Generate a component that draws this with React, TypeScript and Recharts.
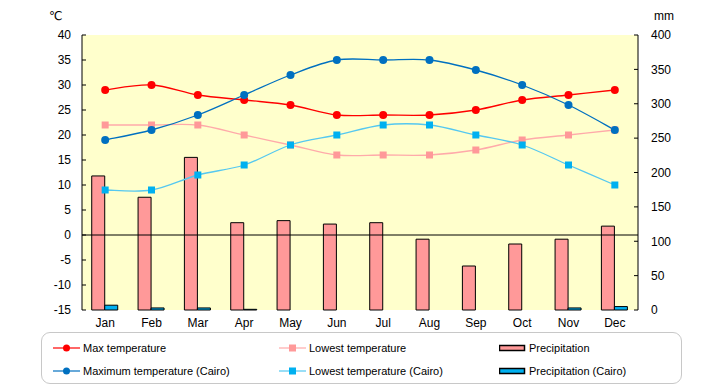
import React from "react"
import {
  ComposedChart,
  Bar,
  Line,
  XAxis,
  YAxis,
  CartesianGrid,
  ReferenceLine,
} from "recharts"

const months = ["Jan", "Feb", "Mar", "Apr", "May", "Jun", "Jul", "Aug", "Sep", "Oct", "Nov", "Dec"]
const maxTemp = [29, 30, 28, 27, 26, 24, 24, 24, 25, 27, 28, 29]
const lowTemp = [22, 22, 22, 20, 18, 16, 16, 16, 17, 19, 20, 21]
const precip = [195, 164, 222, 127, 130, 125, 127, 103, 64, 96, 103, 122]
const maxTempCairo = [19, 21, 24, 28, 32, 35, 35, 35, 33, 30, 26, 21]
const lowTempCairo = [9, 9, 12, 14, 18, 20, 22, 22, 20, 18, 14, 10]
const precipCairo = [7, 3, 3, 1, 0, 0, 0, 0, 0, 0, 3, 5]

const tempTicks = [-15, -10, -5, 0, 5, 10, 15, 20, 25, 30, 35, 40]
const rainTicks = [0, 50, 100, 150, 200, 250, 300, 350, 400]

const data = months.map((m, i) => ({
  month: m,
  maxTemp: maxTemp[i],
  lowTemp: lowTemp[i],
  precip: precip[i],
  maxTempCairo: maxTempCairo[i],
  lowTempCairo: lowTempCairo[i],
  precipCairo: precipCairo[i],
}))

const RED = "#ff0000"
const PINK = "#ff9999"
const BLUE = "#0070c0"
const SKY = "#00b0f0"

// catmull-rom style smoothing, like the spreadsheet's "smoothed line"
const smooth = (ctx: any) => {
  let pts: number[][] = []
  return {
    areaStart() {},
    areaEnd() {},
    lineStart() {
      pts = []
    },
    point(x: number, y: number) {
      pts.push([+x, +y])
    },
    lineEnd() {
      if (!pts.length) return
      ctx.moveTo(pts[0][0], pts[0][1])
      const k = 1 / 6
      for (let i = 0; i < pts.length - 1; i++) {
        const p0 = pts[i - 1] || pts[i]
        const p1 = pts[i]
        const p2 = pts[i + 1]
        const p3 = pts[i + 2] || p2
        ctx.bezierCurveTo(
          p1[0] + (p2[0] - p0[0]) * k,
          p1[1] + (p2[1] - p0[1]) * k,
          p2[0] - (p3[0] - p1[0]) * k,
          p2[1] - (p3[1] - p1[1]) * k,
          p2[0],
          p2[1]
        )
      }
    },
  }
}

const squareDot = (color: string) => (props: any) => {
  const { cx, cy, index } = props
  if (cx == null || cy == null) return <g key={index} />
  return <rect key={index} x={cx - 3.5} y={cy - 3.5} width={7} height={7} fill={color} />
}

const tickStyle = { fontSize: 12, fill: "#000", fontFamily: "Liberation Sans, Arial, sans-serif" }

const legendItems = [
  { label: "Max temperature", kind: "circle", line: RED, mark: RED, x: 11, y: 15 },
  { label: "Lowest temperature", kind: "square", line: "#ffaaaa", mark: PINK, x: 237, y: 15 },
  { label: "Precipitation", kind: "bar", line: "", mark: PINK, x: 457, y: 15 },
  { label: "Maximum temperature (Cairo)", kind: "circle", line: BLUE, mark: BLUE, x: 11, y: 38 },
  { label: "Lowest temperature (Cairo)", kind: "square", line: "#55c8f0", mark: SKY, x: 237, y: 38 },
  { label: "Precipitation (Cairo)", kind: "bar", line: "", mark: SKY, x: 457, y: 38 },
]

function LegendBox() {
  return (
    <div
      style={{
        position: "absolute",
        left: 41,
        top: 332,
        width: 639,
        height: 50,
        border: "1.5px solid #c8c8c8",
        borderRadius: 9,
        fontFamily: "Liberation Sans, Arial, sans-serif",
        fontSize: 11,
        color: "#000",
      }}
    >
      {legendItems.map((it) => (
        <div key={it.label} style={{ position: "absolute", left: it.x, top: it.y - 8, height: 16, display: "flex", alignItems: "center" }}>
          <svg width={27} height={16} style={{ display: "block" }}>
            {it.kind === "bar" ? (
              <rect x={0.5} y={5.5} width={25} height={5} fill={it.mark} stroke="#000" strokeWidth={1.5} />
            ) : (
              <>
                <line x1={0} y1={8} x2={27} y2={8} stroke={it.line} strokeWidth={1.2} />
                {it.kind === "circle" ? (
                  <circle cx={13.5} cy={8} r={3.5} fill={it.mark} />
                ) : (
                  <rect x={10} y={4.5} width={7} height={7} fill={it.mark} />
                )}
              </>
            )}
          </svg>
          <span style={{ marginLeft: 3, whiteSpace: "nowrap" }}>{it.label}</span>
        </div>
      ))}
    </div>
  )
}

export default function App() {
  return (
    <div style={{ position: "relative", width: 720, height: 385, background: "#fff" }}>
      <style>{`body{margin:0}`}</style>
      <div style={{ position: "absolute", left: 49, top: 9, fontSize: 12, fontFamily: "DejaVu Sans, sans-serif" }}>℃</div>
      <div style={{ position: "absolute", left: 654, top: 9, fontSize: 12, fontFamily: "Liberation Sans, Arial, sans-serif" }}>mm</div>
      <ComposedChart
        width={720}
        height={385}
        data={data}
        margin={{ top: 35, right: 32, bottom: 50, left: 42 }}
        barCategoryGap="21%"
        barGap={0}
      >
        <CartesianGrid yAxisId="temp" fill="#ffffcc" horizontal={false} vertical={false} />
        <XAxis dataKey="month" axisLine={false} tickLine={false} tick={tickStyle} tickMargin={2} height={25} interval={0} />
        <YAxis
          yAxisId="temp"
          orientation="left"
          domain={[-15, 40]}
          ticks={tempTicks}
          interval={0}
          width={40}
          axisLine={{ stroke: "#000", strokeWidth: 1 }}
          tickLine={{ stroke: "#000" }}
          tickSize={-4}
          tickMargin={15}
          tick={tickStyle}
        />
        <YAxis
          yAxisId="rain"
          orientation="right"
          domain={[0, 400]}
          ticks={rainTicks}
          interval={0}
          width={50}
          axisLine={{ stroke: "#000", strokeWidth: 1 }}
          tickLine={{ stroke: "#000" }}
          tickSize={-4}
          tickMargin={17}
          tick={tickStyle}
        />
        <Bar yAxisId="rain" dataKey="precip" fill={PINK} stroke="#000" strokeWidth={1} isAnimationActive={false} />
        <Bar yAxisId="rain" dataKey="precipCairo" fill={SKY} stroke="#000" strokeWidth={1} isAnimationActive={false} />
        <ReferenceLine yAxisId="temp" y={0} stroke="#000" strokeWidth={1} />
        <Line
          yAxisId="temp"
          dataKey="lowTemp"
          type={smooth as any}
          stroke="#ffaaaa"
          strokeWidth={1.3}
          dot={squareDot(PINK)}
          isAnimationActive={false}
        />
        <Line
          yAxisId="temp"
          dataKey="maxTemp"
          type={smooth as any}
          stroke={RED}
          strokeWidth={1.3}
          dot={{ r: 4, fill: RED, stroke: "none" }}
          isAnimationActive={false}
        />
        <Line
          yAxisId="temp"
          dataKey="lowTempCairo"
          type={smooth as any}
          stroke="#55c8f0"
          strokeWidth={1.3}
          dot={squareDot(SKY)}
          isAnimationActive={false}
        />
        <Line
          yAxisId="temp"
          dataKey="maxTempCairo"
          type={smooth as any}
          stroke={BLUE}
          strokeWidth={1.3}
          dot={{ r: 4, fill: BLUE, stroke: "none" }}
          isAnimationActive={false}
        />
      </ComposedChart>
      <LegendBox />
    </div>
  )
}
